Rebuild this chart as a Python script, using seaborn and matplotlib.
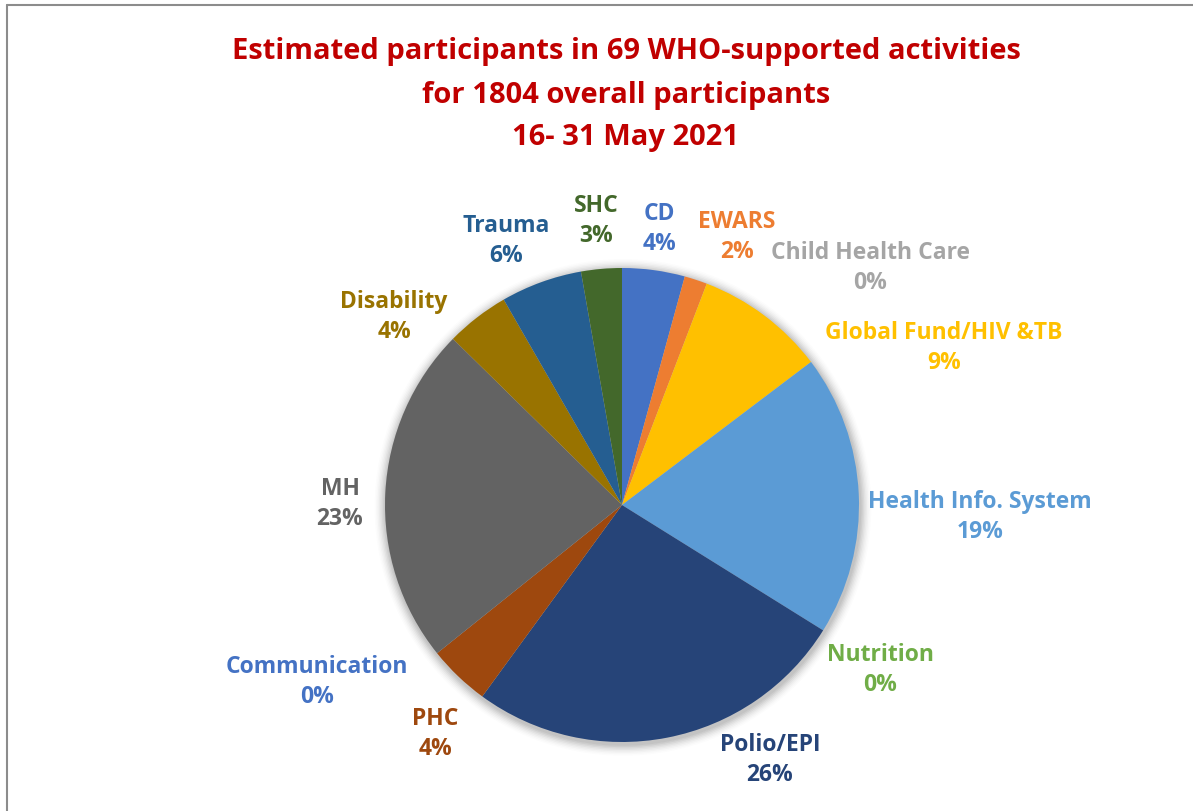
import matplotlib
matplotlib.use("Agg")
import matplotlib.pyplot as plt
import seaborn as sns
import numpy as np
from matplotlib.patches import Circle

sns.set_theme(style="white")
plt.rcParams['font.family'] = ['Open Sans', 'DejaVu Sans']

# ---- data ----
categories = ["CD", "EWARS", "Child Health Care", "Global Fund/HIV &TB",
              "Health Info. System", "Nutrition", "Polio/EPI", "PHC",
              "Communication", "MH", "Disability", "Trauma", "SHC"]
participants = [77, 28, 0, 160, 346, 0, 472, 76, 0, 417, 78, 100, 50]
colors = ["#4472C4", "#ED7D31", "#A5A5A5", "#FFC000", "#5B9BD5", "#70AD47",
          "#264478", "#9E480E", "#4472C4", "#636363", "#997300", "#255E91",
          "#43682B"]
title_lines = ["Estimated participants in 69 WHO-supported activities",
               "for 1804 overall participants",
               "16- 31 May 2021"]

# ---- layout (pixel geometry) ----
W, H, DPI = 1193, 811, 100
CX, CY, R = 622, 505, 237
# label centres relative to pie centre, in pixels (x right, y down)
label_offsets = [(37, -276), (115, -268), (248, -237), (322, -157),
                 (358, 12), (258, 165), (148, 255), (-187, 229),
                 (-305, 177), (-282, -1), (-228, -188), (-116, -264),
                 (-26, -284)]

palette = sns.color_palette(colors)

fig = plt.figure(figsize=(W / DPI, H / DPI), dpi=DPI)
ax = fig.add_axes([0, 0, 1, 1])

# soft shadow
for i, a in enumerate(np.linspace(0.05, 0.012, 8)):
    ax.add_patch(Circle((0.004, -0.01), 1.0 + 0.006 * (i + 1), color="black",
                        alpha=a, lw=0, zorder=0))

wedges, _ = ax.pie(participants, colors=palette, startangle=90,
                   counterclock=False, radius=1.0, center=(0, 0),
                   wedgeprops=dict(linewidth=0),
                   frame=True)
ax.set_xlim(-CX / R, (W - CX) / R)
ax.set_ylim(-(H - CY) / R, CY / R)
ax.set_aspect("equal")
ax.axis("off")

total = sum(participants)
for cat, val, col, (dx, dy) in zip(categories, participants, colors, label_offsets):
    pct = round(100 * val / total)
    ax.text(dx / R, -dy / R, f"{cat}\n{pct}%", ha="center", va="center",
            color=col, fontsize=16.5, fontweight="bold", linespacing=1.38)

for i, line in enumerate(title_lines):
    fig.text(0.5 * (230 + 1022) / W, 1 - (52 + 43 * i) / H, line,
             ha="center", va="center", color="#C00000", fontsize=21,
             fontweight="bold")

# frame lines (top and left)
fig.add_artist(plt.Line2D([7 / W, 1], [1 - 5 / H, 1 - 5 / H], color="#8c8c8c", lw=1.5))
fig.add_artist(plt.Line2D([7 / W, 7 / W], [0, 1 - 5 / H], color="#8c8c8c", lw=1.5))

fig.savefig("out.png", dpi=DPI, facecolor="white")
